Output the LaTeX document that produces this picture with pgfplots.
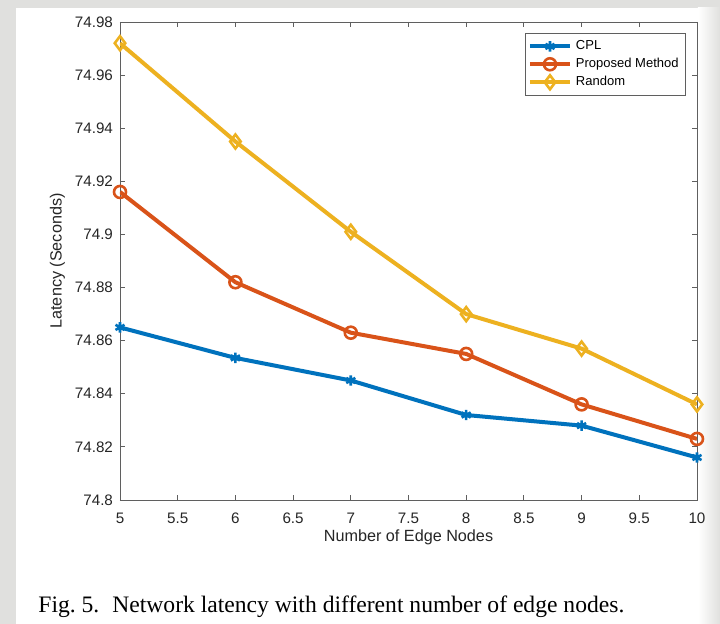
\documentclass[border=0pt]{standalone}
\usepackage{fontspec}
\setmainfont{Liberation Sans}
\newfontfamily\capfont{Liberation Serif}
\usepackage{pgfplots}
\pgfplotsset{compat=1.18}
\definecolor{mblue}{RGB}{0,114,189}
\definecolor{morange}{RGB}{217,83,25}
\definecolor{myellow}{RGB}{237,177,32}
\definecolor{bggray}{RGB}{224,224,222}
\definecolor{axgray}{RGB}{95,95,95}
\definecolor{txtgray}{RGB}{38,38,38}
\begin{document}
\begin{tikzpicture}
\fill[bggray] (0,0) rectangle (360pt,312pt);
\fill[white] (8pt,0) rectangle (349pt,308pt);
\shade[left color=white, right color=bggray] (349pt,0) rectangle (360pt,308pt);
\begin{axis}[
  at={(60pt,62pt)}, anchor=south west,
  scale only axis, width=288.5pt, height=239pt,
  xmin=5, xmax=10, ymin=74.8, ymax=74.98,
  xtick={5,5.5,6,6.5,7,7.5,8,8.5,9,9.5,10},
  ytick={74.8,74.82,74.84,74.86,74.88,74.9,74.92,74.94,74.96,74.98},
  yticklabel style={/pgf/number format/fixed, /pgf/number format/precision=2},
  xticklabel style={yshift=-3pt},
  /pgf/number format/assume math mode=true,
  tick align=inside, tick pos=both, major tick length=2.5pt,
  axis line style={draw=axgray, line width=0.4pt},
  every tick/.style={draw=axgray, line width=0.4pt},
  tick label style={font=\fontsize{7.6}{9}\selectfont, text=txtgray},
  xlabel={Number of Edge Nodes},
  ylabel={Latency (Seconds)},
  every axis x label/.style={at={(axis description cs:0.5,-0.0774)}, anchor=center, font=\fontsize{8.1}{9.5}\selectfont, text=txtgray},
  every axis y label/.style={at={(axis description cs:-0.0832,0.5)}, rotate=90, anchor=south, font=\fontsize{8.1}{9.5}\selectfont, text=txtgray},
  legend style={at={(1,1)}, anchor=north east, xshift=-5.5pt, yshift=-5.5pt,
    draw=axgray, line width=0.4pt, font=\fontsize{6.5}{7}\selectfont,
    inner sep=1.5pt, row sep=-1.2pt, cells={anchor=west}},
  legend image code/.code={\draw[mark repeat=2, mark phase=2] plot coordinates {(0pt,0pt)(10pt,0pt)(20pt,0pt)};},
  every axis plot/.append style={line width=2pt},
]
\addplot[mblue, mark=asterisk, mark size=2.6pt, mark options={solid, line width=1.3pt}] coordinates {
(5,74.865) (6,74.8535) (7,74.845) (8,74.832) (9,74.828) (10,74.816)};
\addlegendentry{CPL}
\addplot[morange, mark=o, mark size=3pt, mark options={solid, line width=1.3pt}] coordinates {
(5,74.916) (6,74.882) (7,74.863) (8,74.855) (9,74.836) (10,74.823)};
\addlegendentry{Proposed Method}
\addplot[myellow, mark=diamond, mark size=3.5pt, mark options={solid, line width=1.3pt}] coordinates {
(5,74.972) (6,74.935) (7,74.901) (8,74.870) (9,74.857) (10,74.836)};
\addlegendentry{Random}
\end{axis}
\node[anchor=base west, inner sep=0pt, font=\capfont\fontsize{11.8}{13}\selectfont] at (19pt,5.5pt) {Fig.~5.\hspace{0.55em}Network latency with different number of edge nodes.};
\end{tikzpicture}
\end{document}
